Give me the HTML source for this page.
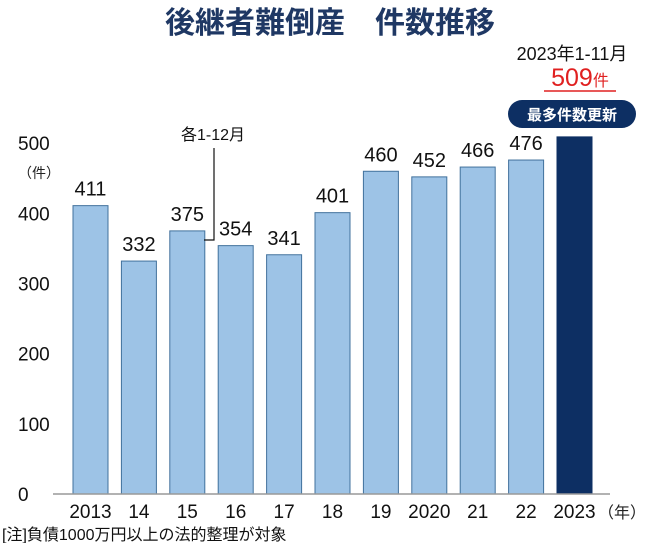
<!DOCTYPE html>
<html><head><meta charset="utf-8"><style>
body{margin:0;background:#fff;width:650px;height:543px;overflow:hidden;font-family:"Liberation Sans","Noto Sans CJK JP",sans-serif}
svg text{font-family:"Liberation Sans","Noto Sans CJK JP",sans-serif}
</style></head><body>
<svg width="650" height="543">
<text x="330" y="33" text-anchor="middle" font-size="30" font-weight="bold" fill="#1f3864">後継者難倒産　件数推移</text>
<g id="yaxis"></g><g id="bars"></g><g id="xlabels"></g>
<line x1="53" y1="494" x2="610" y2="494" stroke="#999" stroke-width="1.5"/>
<text x="18" y="178" font-size="14" fill="#222">（件）</text>
<text x="598" y="518" font-size="16" fill="#222">（年）</text>
<text x="213" y="140" text-anchor="middle" font-size="16" fill="#111">各1-12月</text>
<path d="M214,148 V240 H204" stroke="#111" fill="none" stroke-width="1.2"/>
<text x="572" y="60" text-anchor="middle" font-size="18" fill="#111">2023年1-11月</text>
<text x="580" y="86" text-anchor="middle" fill="#e02020"><tspan font-size="25">509</tspan><tspan font-size="16">件</tspan></text>
<line x1="544" y1="91" x2="616" y2="91" stroke="#e02020" stroke-width="1.5"/>
<rect x="508" y="100" width="128" height="28" rx="14" fill="#0d2f63"/>
<text x="572" y="120" text-anchor="middle" font-size="15" font-weight="bold" fill="#fff">最多件数更新</text>
<text x="2" y="540" font-size="16" fill="#111">[注]負債1000万円以上の法的整理が対象</text>
</svg>
<script>
const categories=["2013","14","15","16","17","18","19","2020","21","22","2023"];
const values=[411,332,375,354,341,401,460,452,466,476,509];
const yTicks=[0,100,200,300,400,500];
const NS="http://www.w3.org/2000/svg";
const y=v=>494-v*0.7016;
const x=i=>73+i*48.4;
const bw=35;
function mk(t,a,p){const e=document.createElementNS(NS,t);for(const k in a)e.setAttribute(k,a[k]);p.appendChild(e);return e;}
const ya=document.getElementById('yaxis');
yTicks.forEach(v=>{const t=mk('text',{x:18,y:y(v)+7,'font-size':19,fill:'#111'},ya);t.textContent=v;

});
const bg=document.getElementById('bars'),xl=document.getElementById('xlabels');
values.forEach((v,i)=>{const last=i===values.length-1;
const r=mk('rect',{x:x(i),y:y(v),width:bw,height:494-y(v),fill:last?'#0d2f63':'#9dc3e6',stroke:last?'#0d2f63':'#41719c','stroke-width':1},bg);


if(!last){const t=mk('text',{x:x(i)+bw/2,y:y(v)-10,'text-anchor':'middle','font-size':20,fill:'#111'},bg);t.textContent=v;

}
const c=mk('text',{x:x(i)+bw/2,y:518,'text-anchor':'middle','font-size':19,fill:'#111'},xl);c.textContent=categories[i];

});
</script>
</body></html>
